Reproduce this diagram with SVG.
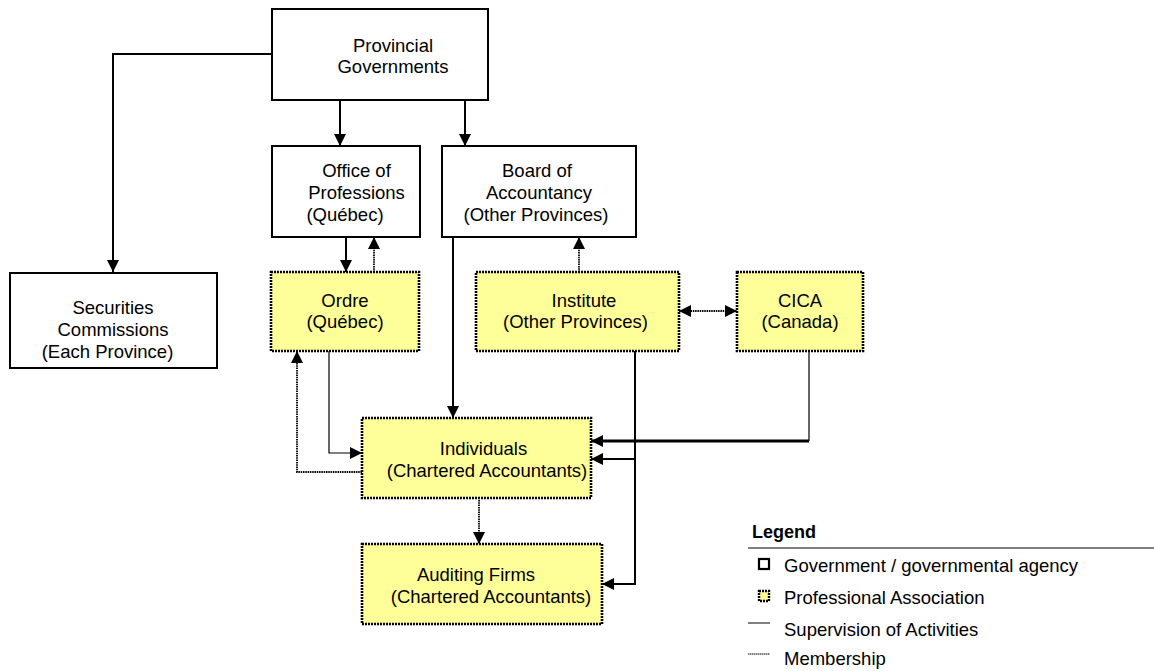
<svg xmlns="http://www.w3.org/2000/svg" width="1154" height="671" viewBox="0 0 1154 671">
<style>
text{font-family:"Liberation Sans",Arial,sans-serif;font-size:18.5px;fill:#000;text-anchor:middle}
.gov{fill:#fff;stroke:#000;stroke-width:2}
.assoc{fill:#ffff99;stroke:#000;stroke-width:2.6;stroke-dasharray:2 1}
.sup{fill:none;stroke:#000;stroke-width:2}
.thin{fill:none;stroke:#000;stroke-width:1.2}
.mem{fill:none;stroke:#000;stroke-width:1.8;stroke-dasharray:1.5 0.8}
.lg{text-anchor:start}
</style>
<defs>
<marker id="ah" markerUnits="userSpaceOnUse" markerWidth="12" markerHeight="12" refX="12" refY="6" orient="auto">
<path d="M0,0 L12,6 L0,12 z" fill="#000"/>
</marker>
<marker id="ahs" markerUnits="userSpaceOnUse" markerWidth="12" markerHeight="12" refX="12" refY="6" orient="auto-start-reverse">
<path d="M0,0 L12,6 L0,12 z" fill="#000"/>
</marker>
</defs>
<g id="connectors">
<path class="sup" d="M272,54 H113 V272" marker-end="url(#ah)"/>
<path class="sup" d="M340,100 V146" marker-end="url(#ah)"/>
<path class="sup" d="M465,100 V146" marker-end="url(#ah)"/>
<path class="sup" d="M346,237 V272" marker-end="url(#ah)"/>
<path class="mem" d="M374,272 V237" marker-end="url(#ah)"/>
<path class="sup" d="M453,237 V418" marker-end="url(#ah)"/>
<path class="mem" d="M579,272 V237" marker-end="url(#ah)"/>
<path class="mem" d="M679,311 H737" marker-start="url(#ahs)" marker-end="url(#ahs)"/>
<path class="thin" d="M329,351 V453 H362" marker-end="url(#ah)"/>
<path class="mem" d="M362,472 H297 V351" marker-end="url(#ah)"/>
<path class="thin" d="M809,351 V441"/>
<path fill="none" stroke="#000" stroke-width="3" d="M809,441 H591" marker-end="url(#ah)"/>
<path class="sup" d="M635,351 V584 H602" marker-end="url(#ah)"/>
<path class="sup" d="M635,459 H591" marker-end="url(#ah)"/>
<path class="mem" d="M479,500 V544" marker-end="url(#ah)"/>
</g>
<g id="provincial">
<rect class="gov" x="272" y="9" width="216" height="91"/>
<text x="393" y="52">Provincial</text>
<text x="393" y="73">Governments</text>
</g>
<g id="office">
<rect class="gov" x="272" y="146" width="148" height="91"/>
<text x="356.5" y="177">Office of</text>
<text x="356.5" y="199">Professions</text>
<text x="345" y="221">(Québec)</text>
</g>
<g id="board">
<rect class="gov" x="442" y="146" width="194" height="91"/>
<text x="537" y="177">Board of</text>
<text x="539" y="199">Accountancy</text>
<text x="536" y="221">(Other Provinces)</text>
</g>
<g id="securities">
<rect class="gov" x="10" y="273" width="207" height="95"/>
<text x="113" y="314">Securities</text>
<text x="113" y="336">Commissions</text>
<text x="107.5" y="358">(Each Province)</text>
</g>
<g id="ordre">
<rect class="assoc" x="271" y="272" width="148" height="79"/>
<text x="345" y="307">Ordre</text>
<text x="345" y="328">(Québec)</text>
</g>
<g id="institute">
<rect class="assoc" x="476" y="272" width="203" height="79"/>
<text x="584" y="307">Institute</text>
<text x="575.5" y="328">(Other Provinces)</text>
</g>
<g id="cica">
<rect class="assoc" x="737" y="272" width="126" height="79"/>
<text x="800" y="307">CICA</text>
<text x="800" y="328">(Canada)</text>
</g>
<g id="individuals">
<rect class="assoc" x="362" y="418" width="229" height="80"/>
<text x="483.5" y="455">Individuals</text>
<text x="487" y="477">(Chartered Accountants)</text>
</g>
<g id="auditing">
<rect class="assoc" x="362" y="544" width="240" height="80"/>
<text x="476" y="581">Auditing Firms</text>
<text x="491" y="603">(Chartered Accountants)</text>
</g>
<g id="legend">
<text class="lg" x="752" y="538" style="font-weight:bold;font-size:18px">Legend</text>
<line x1="748" y1="548" x2="1154" y2="548" stroke="#000" stroke-width="1.2"/>
<rect x="759" y="559" width="10" height="10" fill="#fff" stroke="#000" stroke-width="2.2"/>
<text class="lg" x="784" y="572">Government / governmental agency</text>
<rect x="759" y="591" width="10" height="10" fill="#ffff99" stroke="#000" stroke-width="2.4" stroke-dasharray="2 1"/>
<text class="lg" x="784" y="604">Professional Association</text>
<line x1="748" y1="623" x2="770" y2="623" stroke="#000" stroke-width="1"/>
<text class="lg" x="784" y="636">Supervision of Activities</text>
<line x1="748" y1="654" x2="770" y2="654" stroke="#000" stroke-width="1.2" stroke-dasharray="1.5 0.5"/>
<text class="lg" x="784" y="665">Membership</text>
</g>
</svg>
